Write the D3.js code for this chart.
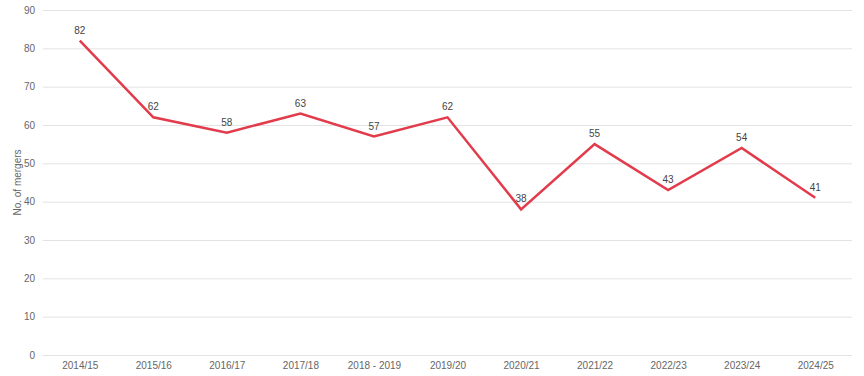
<!DOCTYPE html>
<html>
<head>
<meta charset="utf-8">
<script src="https://cdn.jsdelivr.net/npm/d3@7"></script>
<style>
  html, body { margin: 0; padding: 0; background: #fff; }
  svg { display: block; font-family: "Liberation Sans", Arial, sans-serif; }
</style>
</head>
<body>
<div id="chart"></div>
<script>
// data
const years = ["2014/15", "2015/16", "2016/17", "2017/18", "2018 - 2019", "2019/20",
               "2020/21", "2021/22", "2022/23", "2023/24", "2024/25"];
const mergers = [82, 62, 58, 63, 57, 62, 38, 55, 43, 54, 41];
const yTicks = [0, 10, 20, 30, 40, 50, 60, 70, 80, 90];

const width = 864, height = 376;
const margin = { top: 10, right: 12, bottom: 21, left: 43 };

const svg = d3.select("#chart").append("svg")
    .attr("width", width)
    .attr("height", height);

const x = d3.scalePoint()
    .domain(years)
    .range([margin.left, width - margin.right])
    .padding(0.5);

const y = d3.scaleLinear()
    .domain([0, 90])
    .range([height - margin.bottom, margin.top]);

// gridlines + y labels
const yAxis = d3.axisLeft(y)
    .tickValues(yTicks)
    .tickSize(-(width - margin.left - margin.right))
    .tickPadding(8);

const yG = svg.append("g")
    .attr("transform", "translate(" + margin.left + ",0)")
    .call(yAxis);
yG.select(".domain").remove();
yG.selectAll(".tick line").attr("stroke", "#e3e3e3").attr("stroke-width", 1);
yG.selectAll(".tick text")
    .attr("fill", "#666")
    .style("font-size", "10px");

// x labels
const xAxis = d3.axisBottom(x).tickSize(0).tickPadding(7);
const xG = svg.append("g")
    .attr("transform", "translate(0," + (height - margin.bottom) + ")")
    .call(xAxis);
xG.select(".domain").remove();
xG.selectAll(".tick text")
    .attr("fill", "#666")
    .style("font-size", "10px");

// axis title
svg.append("text")
    .attr("transform", "translate(21," + ((margin.top + height - margin.bottom) / 2) + ") rotate(-90)")
    .attr("text-anchor", "middle")
    .attr("fill", "#666")
    .style("font-size", "10px")
    .text("No. of mergers");

// line
const line = d3.line()
    .x((d, i) => x(years[i]))
    .y(d => y(d));

svg.append("path")
    .datum(mergers)
    .attr("fill", "none")
    .attr("stroke", "#e23b4b")
    .attr("stroke-width", 2.5)
    .attr("stroke-linejoin", "miter")
    .attr("d", line);

// value labels
svg.selectAll(".val")
    .data(mergers)
    .enter()
    .append("text")
    .attr("class", "val")
    .attr("x", (d, i) => x(years[i]))
    .attr("y", d => y(d) - 7)
    .attr("text-anchor", "middle")
    .attr("fill", "#444")
    .style("font-size", "10px")
    .text(d => d);
</script>
</body>
</html>
